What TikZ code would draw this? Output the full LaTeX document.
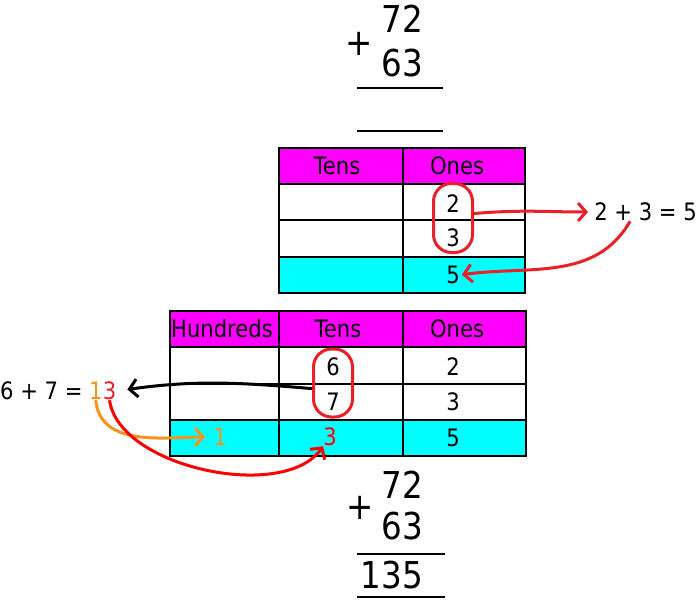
\documentclass[tikz,border=0pt]{standalone}
\usepackage{fontspec}
\setmainfont{DejaVu Sans}[FakeStretch=0.88]
\usetikzlibrary{arrows.meta,positioning}
\definecolor{hdrmag}{RGB}{255,0,255}
\definecolor{rowcyan}{RGB}{0,255,255}
\definecolor{markred}{RGB}{232,32,40}
\definecolor{carryorange}{RGB}{247,147,30}
\begin{document}
\begin{tikzpicture}[x=1pt,y=-1pt]
\tikzstyle{every node}+=[inner sep=0pt]
\tikzstyle{cell}=[font=\fontsize{24}{28}\selectfont]
\tikzstyle{big}=[font=\fontsize{37}{40}\selectfont]
\tikzstyle{grid}=[line width=2.5pt]
\tikzstyle{rule}=[line width=1.6pt]
\tikzstyle{ring}=[draw=markred,line width=3pt,rounded corners=18pt,minimum width=39pt,minimum height=69pt]
\tikzstyle{curvearr}=[line width=3pt,-{Straight Barb[length=8pt,width=18pt]}]
\useasboundingbox (0,0) rectangle (698,602);

% sum before the table
\node[big,anchor=east] (topA) at (423,19) {72};
\node[big,anchor=east] (topB) at (423,63) {63};
\node[big] (topPlus) at (359,44) {+};
\draw[rule] (357,88) -- (443,88);
\draw[rule] (357,131) -- (443,131);

% tens and ones table
\fill[hdrmag] (279,148) rectangle (525,184);
\fill[rowcyan] (279,257) rectangle (525,293);
\draw[grid] (279,148) rectangle (525,293);
\draw[grid] (403,148) -- (403,293);
\foreach \y in {184,220,257} \draw[grid] (279,\y) -- (525,\y);
\node[cell] (tensA) at (337,166) {Tens};
\node[cell] (onesA) at (457,166) {Ones};
\node[cell] (twoA) at (453,204) {2};
\node[cell] (threeA) at (453,238) {3};
\node[cell] (fiveA) at (453,275) {5};
\node[ring] (ringA) at (453,218) {};
\node[cell,anchor=east] (sumA) at (697,212) {2 + 3 = 5};
\draw[curvearr,markred,shorten >=6pt] (ringA.12) to[out=5,in=180] (sumA.west);
\draw[curvearr,markred,shorten >=2pt] (sumA.211) to[out=240,in=8] (fiveA.east);

% hundreds, tens and ones table
\fill[hdrmag] (170,311) rectangle (526,347);
\fill[rowcyan] (170,420) rectangle (526,456);
\draw[grid] (170,311) rectangle (526,456);
\foreach \x in {279,403} \draw[grid] (\x,311) -- (\x,456);
\foreach \y in {347,384,420} \draw[grid] (170,\y) -- (526,\y);
\node[cell] (hundB) at (222,329) {Hundreds};
\node[cell] (tensB) at (338,329) {Tens};
\node[cell] (onesB) at (457,329) {Ones};
\node[cell] (sixB) at (333,367) {6};
\node[cell] (sevenB) at (333,402) {7};
\node[cell] (twoB) at (453,367) {2};
\node[cell] (threeB) at (453,402) {3};
\node[cell] (fiveB) at (453,438) {5};
\node[cell,text=carryorange] (oneB) at (220,437) {1};
\node[cell,text=red] (unitsB) at (330,437) {3};
\node[ring,minimum height=68pt] (ringB) at (333,383) {};
\node[cell,anchor=west] (sumB) at (0,391) {6 + 7 =};
\node[cell,right=6pt of sumB,text=carryorange] (carryB) {1};
\node[cell,right=0pt of carryB,text=markred] (unitB) {3};
\draw[curvearr,shorten >=11pt] (ringB.195) to[out=175,in=8] (unitB.east);
\draw[curvearr,carryorange,shorten >=8pt] (carryB.south) to[out=-85,in=180] (oneB.west);
\draw[curvearr,red] (unitB.south) to[out=-82,in=235,looseness=0.8] (unitsB.south west);

% sum after the table
\node[big,anchor=east] (botA) at (423,485) {72};
\node[big,anchor=east] (botB) at (423,526) {63};
\node[big] (botPlus) at (360,508) {+};
\draw[rule] (357,554) -- (445,554);
\node[big,anchor=east] (botSum) at (423,575) {135};
\draw[rule] (357,597) -- (445,597);
\end{tikzpicture}
\end{document}
